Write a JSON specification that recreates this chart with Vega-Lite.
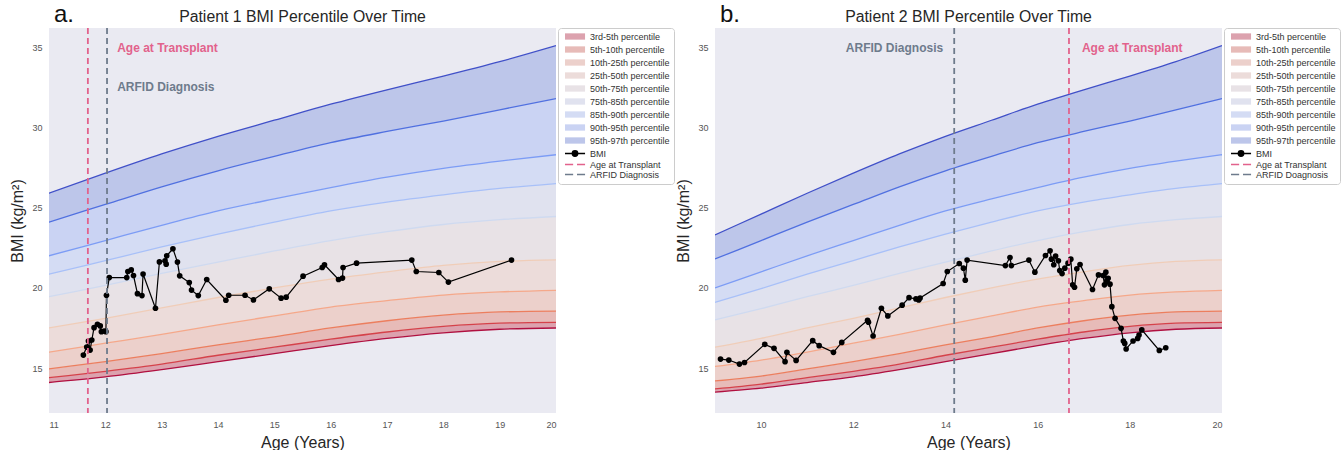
{
"$schema": "https://vega.github.io/schema/vega-lite/v6.json",
"padding": {"left": 9, "top": 3, "right": 0, "bottom": 0},
"spacing": 0,
"resolve": {"scale": {"fill": "independent", "stroke": "independent", "color": "independent"}, "legend": {"fill": "independent"}},
"config": {
  "font": "Liberation Sans",
  "view": {"stroke": null, "fill": "#eaeaf2"},
  "axis": {"grid": false, "domain": false, "ticks": false, "labelFontSize": 9, "labelColor": "#555555", "labelPadding": 7, "titleFontSize": 16, "titleFontWeight": "normal", "titleColor": "#262626"},
  "axisX": {"titlePadding": 5},
  "axisY": {"titlePadding": 6},
  "title": {"fontSize": 15.8, "fontWeight": "normal", "color": "#262626", "offset": 1},
  "legend": {"orient": "right", "offset": 2, "padding": 4, "labelFontSize": 9, "labelColor": "#333333", "strokeColor": "#cccccc", "fillColor": "#ffffff", "cornerRadius": 3, "symbolSize": 49, "symbolStrokeWidth": 1.5, "labelOffset": 19, "rowPadding": 0}
},
"datasets": {
  "bands": [
    {"age":9,"band":"3rd-5th percentile","lo":13.5,"hi":13.7},{"age":10,"band":"3rd-5th percentile","lo":13.75,"hi":14.0},{"age":11,"band":"3rd-5th percentile","lo":14.1,"hi":14.4},{"age":12,"band":"3rd-5th percentile","lo":14.45,"hi":14.8},{"age":13,"band":"3rd-5th percentile","lo":14.9,"hi":15.25},{"age":14,"band":"3rd-5th percentile","lo":15.4,"hi":15.8},{"age":15,"band":"3rd-5th percentile","lo":15.9,"hi":16.3},{"age":16,"band":"3rd-5th percentile","lo":16.4,"hi":16.8},{"age":17,"band":"3rd-5th percentile","lo":16.85,"hi":17.25},{"age":18,"band":"3rd-5th percentile","lo":17.2,"hi":17.6},{"age":19,"band":"3rd-5th percentile","lo":17.42,"hi":17.8},{"age":20,"band":"3rd-5th percentile","lo":17.5,"hi":17.85},
    {"age":9,"band":"5th-10th percentile","lo":13.7,"hi":14.2},{"age":10,"band":"5th-10th percentile","lo":14.0,"hi":14.5},{"age":11,"band":"5th-10th percentile","lo":14.4,"hi":14.95},{"age":12,"band":"5th-10th percentile","lo":14.8,"hi":15.4},{"age":13,"band":"5th-10th percentile","lo":15.25,"hi":15.9},{"age":14,"band":"5th-10th percentile","lo":15.8,"hi":16.45},{"age":15,"band":"5th-10th percentile","lo":16.3,"hi":16.95},{"age":16,"band":"5th-10th percentile","lo":16.8,"hi":17.5},{"age":17,"band":"5th-10th percentile","lo":17.25,"hi":17.95},{"age":18,"band":"5th-10th percentile","lo":17.6,"hi":18.3},{"age":19,"band":"5th-10th percentile","lo":17.8,"hi":18.5},{"age":20,"band":"5th-10th percentile","lo":17.85,"hi":18.55},
    {"age":9,"band":"10th-25th percentile","lo":14.2,"hi":15.1},{"age":10,"band":"10th-25th percentile","lo":14.5,"hi":15.5},{"age":11,"band":"10th-25th percentile","lo":14.95,"hi":16.0},{"age":12,"band":"10th-25th percentile","lo":15.4,"hi":16.55},{"age":13,"band":"10th-25th percentile","lo":15.9,"hi":17.1},{"age":14,"band":"10th-25th percentile","lo":16.45,"hi":17.7},{"age":15,"band":"10th-25th percentile","lo":16.95,"hi":18.25},{"age":16,"band":"10th-25th percentile","lo":17.5,"hi":18.8},{"age":17,"band":"10th-25th percentile","lo":17.95,"hi":19.2},{"age":18,"band":"10th-25th percentile","lo":18.3,"hi":19.55},{"age":19,"band":"10th-25th percentile","lo":18.5,"hi":19.75},{"age":20,"band":"10th-25th percentile","lo":18.55,"hi":19.85},
    {"age":9,"band":"25th-50th percentile","lo":15.1,"hi":16.3},{"age":10,"band":"25th-50th percentile","lo":15.5,"hi":16.85},{"age":11,"band":"25th-50th percentile","lo":16.0,"hi":17.5},{"age":12,"band":"25th-50th percentile","lo":16.55,"hi":18.1},{"age":13,"band":"25th-50th percentile","lo":17.1,"hi":18.75},{"age":14,"band":"25th-50th percentile","lo":17.7,"hi":19.4},{"age":15,"band":"25th-50th percentile","lo":18.25,"hi":20.0},{"age":16,"band":"25th-50th percentile","lo":18.8,"hi":20.55},{"age":17,"band":"25th-50th percentile","lo":19.2,"hi":21.0},{"age":18,"band":"25th-50th percentile","lo":19.55,"hi":21.4},{"age":19,"band":"25th-50th percentile","lo":19.75,"hi":21.65},{"age":20,"band":"25th-50th percentile","lo":19.85,"hi":21.75},
    {"age":9,"band":"50th-75th percentile","lo":16.3,"hi":18.0},{"age":10,"band":"50th-75th percentile","lo":16.85,"hi":18.7},{"age":11,"band":"50th-75th percentile","lo":17.5,"hi":19.45},{"age":12,"band":"50th-75th percentile","lo":18.1,"hi":20.15},{"age":13,"band":"50th-75th percentile","lo":18.75,"hi":20.9},{"age":14,"band":"50th-75th percentile","lo":19.4,"hi":21.6},{"age":15,"band":"50th-75th percentile","lo":20.0,"hi":22.3},{"age":16,"band":"50th-75th percentile","lo":20.55,"hi":22.95},{"age":17,"band":"50th-75th percentile","lo":21.0,"hi":23.5},{"age":18,"band":"50th-75th percentile","lo":21.4,"hi":23.95},{"age":19,"band":"50th-75th percentile","lo":21.65,"hi":24.25},{"age":20,"band":"50th-75th percentile","lo":21.75,"hi":24.45},
    {"age":9,"band":"75th-85th percentile","lo":18.0,"hi":19.1},{"age":10,"band":"75th-85th percentile","lo":18.7,"hi":19.95},{"age":11,"band":"75th-85th percentile","lo":19.45,"hi":20.85},{"age":12,"band":"75th-85th percentile","lo":20.15,"hi":21.7},{"age":13,"band":"75th-85th percentile","lo":20.9,"hi":22.55},{"age":14,"band":"75th-85th percentile","lo":21.6,"hi":23.35},{"age":15,"band":"75th-85th percentile","lo":22.3,"hi":24.1},{"age":16,"band":"75th-85th percentile","lo":22.95,"hi":24.8},{"age":17,"band":"75th-85th percentile","lo":23.5,"hi":25.35},{"age":18,"band":"75th-85th percentile","lo":23.95,"hi":25.8},{"age":19,"band":"75th-85th percentile","lo":24.25,"hi":26.2},{"age":20,"band":"75th-85th percentile","lo":24.45,"hi":26.5},
    {"age":9,"band":"85th-90th percentile","lo":19.1,"hi":20.0},{"age":10,"band":"85th-90th percentile","lo":19.95,"hi":21.0},{"age":11,"band":"85th-90th percentile","lo":20.85,"hi":22.0},{"age":12,"band":"85th-90th percentile","lo":21.7,"hi":22.95},{"age":13,"band":"85th-90th percentile","lo":22.55,"hi":23.9},{"age":14,"band":"85th-90th percentile","lo":23.35,"hi":24.8},{"age":15,"band":"85th-90th percentile","lo":24.1,"hi":25.55},{"age":16,"band":"85th-90th percentile","lo":24.8,"hi":26.25},{"age":17,"band":"85th-90th percentile","lo":25.35,"hi":26.9},{"age":18,"band":"85th-90th percentile","lo":25.8,"hi":27.45},{"age":19,"band":"85th-90th percentile","lo":26.2,"hi":27.9},{"age":20,"band":"85th-90th percentile","lo":26.5,"hi":28.3},
    {"age":9,"band":"90th-95th percentile","lo":20.0,"hi":21.8},{"age":10,"band":"90th-95th percentile","lo":21.0,"hi":22.95},{"age":11,"band":"90th-95th percentile","lo":22.0,"hi":24.1},{"age":12,"band":"90th-95th percentile","lo":22.95,"hi":25.2},{"age":13,"band":"90th-95th percentile","lo":23.9,"hi":26.3},{"age":14,"band":"90th-95th percentile","lo":24.8,"hi":27.3},{"age":15,"band":"90th-95th percentile","lo":25.55,"hi":28.2},{"age":16,"band":"90th-95th percentile","lo":26.25,"hi":29.05},{"age":17,"band":"90th-95th percentile","lo":26.9,"hi":29.75},{"age":18,"band":"90th-95th percentile","lo":27.45,"hi":30.4},{"age":19,"band":"90th-95th percentile","lo":27.9,"hi":31.1},{"age":20,"band":"90th-95th percentile","lo":28.3,"hi":31.8},
    {"age":9,"band":"95th-97th percentile","lo":21.8,"hi":23.3},{"age":10,"band":"95th-97th percentile","lo":22.95,"hi":24.6},{"age":11,"band":"95th-97th percentile","lo":24.1,"hi":25.9},{"age":12,"band":"95th-97th percentile","lo":25.2,"hi":27.15},{"age":13,"band":"95th-97th percentile","lo":26.3,"hi":28.35},{"age":14,"band":"95th-97th percentile","lo":27.3,"hi":29.45},{"age":15,"band":"95th-97th percentile","lo":28.2,"hi":30.45},{"age":16,"band":"95th-97th percentile","lo":29.05,"hi":31.45},{"age":17,"band":"95th-97th percentile","lo":29.75,"hi":32.35},{"age":18,"band":"95th-97th percentile","lo":30.4,"hi":33.2},{"age":19,"band":"95th-97th percentile","lo":31.1,"hi":34.1},{"age":20,"band":"95th-97th percentile","lo":31.8,"hi":35.1}
  ],
  "p1": [
    {"age":11.61,"bmi":15.81},{"age":11.67,"bmi":16.31},{"age":11.70,"bmi":16.69},{"age":11.73,"bmi":16.12},{"age":11.76,"bmi":16.75},{"age":11.80,"bmi":17.52},{"age":11.86,"bmi":17.73},{"age":11.91,"bmi":17.63},{"age":11.93,"bmi":17.27},{"age":11.98,"bmi":17.31},{"age":12.01,"bmi":17.27},{"age":12.02,"bmi":19.54},{"age":12.07,"bmi":20.64},{"age":12.38,"bmi":20.64},{"age":12.40,"bmi":21.02},{"age":12.46,"bmi":21.12},{"age":12.50,"bmi":20.77},{"age":12.57,"bmi":19.64},{"age":12.65,"bmi":19.52},{"age":12.67,"bmi":20.86},{"age":12.89,"bmi":18.73},{"age":12.96,"bmi":21.62},{"age":13.06,"bmi":21.69},{"age":13.08,"bmi":21.48},{"age":13.09,"bmi":22.0},{"age":13.20,"bmi":22.44},{"age":13.28,"bmi":21.61},{"age":13.32,"bmi":20.75},{"age":13.49,"bmi":20.33},{"age":13.53,"bmi":19.86},{"age":13.65,"bmi":19.52},{"age":13.80,"bmi":20.52},{"age":14.14,"bmi":19.23},{"age":14.19,"bmi":19.54},{"age":14.48,"bmi":19.54},{"age":14.63,"bmi":19.25},{"age":14.91,"bmi":19.94},{"age":15.12,"bmi":19.36},{"age":15.21,"bmi":19.42},{"age":15.51,"bmi":20.73},{"age":15.85,"bmi":21.27},{"age":15.89,"bmi":21.44},{"age":16.14,"bmi":20.52},{"age":16.21,"bmi":20.61},{"age":16.22,"bmi":21.27},{"age":16.46,"bmi":21.54},{"age":17.44,"bmi":21.73},{"age":17.52,"bmi":21.02},{"age":17.92,"bmi":20.96},{"age":18.09,"bmi":20.36},{"age":19.21,"bmi":21.73}
  ],
  "p2": [
    {"age":9.12,"bmi":15.56},{"age":9.30,"bmi":15.5},{"age":9.53,"bmi":15.25},{"age":9.64,"bmi":15.35},{"age":10.08,"bmi":16.48},{"age":10.28,"bmi":16.23},{"age":10.52,"bmi":15.4},{"age":10.56,"bmi":15.98},{"age":10.76,"bmi":15.48},{"age":11.12,"bmi":16.71},{"age":11.26,"bmi":16.4},{"age":11.57,"bmi":15.98},{"age":11.75,"bmi":16.6},{"age":12.31,"bmi":17.98},{"age":12.33,"bmi":17.86},{"age":12.43,"bmi":17.0},{"age":12.61,"bmi":18.73},{"age":12.75,"bmi":18.25},{"age":13.06,"bmi":18.92},{"age":13.21,"bmi":19.39},{"age":13.36,"bmi":19.31},{"age":13.42,"bmi":19.25},{"age":13.45,"bmi":19.37},{"age":13.95,"bmi":20.27},{"age":14.04,"bmi":21.02},{"age":14.30,"bmi":21.52},{"age":14.39,"bmi":21.23},{"age":14.43,"bmi":20.48},{"age":14.47,"bmi":21.73},{"age":15.30,"bmi":21.39},{"age":15.40,"bmi":21.89},{"age":15.43,"bmi":21.39},{"age":15.81,"bmi":21.73},{"age":15.94,"bmi":20.98},{"age":16.17,"bmi":22.02},{"age":16.27,"bmi":22.31},{"age":16.30,"bmi":21.79},{"age":16.35,"bmi":21.44},{"age":16.39,"bmi":21.98},{"age":16.45,"bmi":21.69},{"age":16.48,"bmi":21.08},{"age":16.53,"bmi":20.89},{"age":16.59,"bmi":21.23},{"age":16.66,"bmi":21.54},{"age":16.72,"bmi":21.79},{"age":16.76,"bmi":20.19},{"age":16.80,"bmi":20.04},{"age":16.85,"bmi":21.19},{"age":16.92,"bmi":21.46},{"age":17.19,"bmi":19.9},{"age":17.32,"bmi":20.81},{"age":17.42,"bmi":20.77},{"age":17.45,"bmi":20.19},{"age":17.48,"bmi":20.98},{"age":17.50,"bmi":20.4},{"age":17.53,"bmi":20.6},{"age":17.57,"bmi":20.23},{"age":17.61,"bmi":18.83},{"age":17.68,"bmi":18.1},{"age":17.81,"bmi":17.48},{"age":17.86,"bmi":16.69},{"age":17.89,"bmi":16.54},{"age":17.92,"bmi":16.19},{"age":18.07,"bmi":16.69},{"age":18.17,"bmi":16.85},{"age":18.20,"bmi":17.06},{"age":18.26,"bmi":17.38},{"age":18.64,"bmi":16.1},{"age":18.78,"bmi":16.27}
  ]
},
"hconcat": [
  {
    "title": {"text": "a.", "anchor": "start", "fontSize": 24, "color": "#111111", "dx": 44, "dy": 22, "offset": 4},
    "hconcat": [
      {
        "width": 507, "height": 385,
        "title": {"text": "Patient 1 BMI Percentile Over Time"},
        "layer": [
          {"data": {"name": "bands"}, "mark": {"type": "area", "interpolate": "monotone", "clip": true},
           "encoding": {
             "x": {"field": "age", "type": "quantitative", "scale": {"domain": [11, 20], "nice": false, "zero": false}, "axis": {"values": [11,12,13,14,15,16,17,18,19,20], "format": "d", "title": "Age (Years)"}},
             "y": {"field": "hi", "type": "quantitative", "scale": {"domain": [12.2, 36.2], "nice": false, "zero": false}, "axis": {"values": [15,20,25,30,35], "title": "BMI (kg/m²)"}},
             "y2": {"field": "lo"},
             "fill": {"field": "band", "type": "nominal",
               "scale": {"domain": ["3rd-5th percentile","5th-10th percentile","10th-25th percentile","25th-50th percentile","50th-75th percentile","75th-85th percentile","85th-90th percentile","90th-95th percentile","95th-97th percentile","BMI","Age at Transplant","ARFID Diagnosis"],
                         "range": ["#dca2ae","#e7bbb8","#ecd0cb","#ecdcda","#e8e2e6","#e0e2ef","#d4dcf4","#cad3f3","#bdc6ea","#000000","#e2628c","#6e7b8c"]},
               "legend": {"title": null, "encode": {"symbols": {"update": {
                 "shape": {"signal": "indexof(datum.value,'percentile')>=0 ? 'M-0.43,-0.9H5.3V0.9H-0.43Z' : datum.value=='BMI' ? 'M-0.43,0H5.3M1.68,0A0.75,0.75 0 1,0 3.18,0A0.75,0.75 0 1,0 1.68,0' : 'M-0.43,0H1.9M3.0,0H5.3'"},
                 "stroke": {"signal": "datum.value=='BMI' ? '#000000' : datum.value=='Age at Transplant' ? '#e2628c' : indexof(datum.value,'ARFID')>=0 ? '#6e7b8c' : 'transparent'"},
                 "strokeWidth": {"value": 1.6},
                 "opacity": {"value": 1},
                 "fillOpacity": {"value": 1}
               }}}}}
           }},
          {"data": {"name": "bands"}, "mark": {"type": "line", "interpolate": "monotone", "clip": true, "strokeWidth": 1.3},
           "encoding": {
             "x": {"field": "age", "type": "quantitative"},
             "y": {"field": "hi", "type": "quantitative"},
             "stroke": {"field": "band", "type": "nominal", "legend": null,
               "scale": {"domain": ["3rd-5th percentile","5th-10th percentile","10th-25th percentile","25th-50th percentile","50th-75th percentile","75th-85th percentile","85th-90th percentile","90th-95th percentile","95th-97th percentile"],
                         "range": ["#d5424a","#ec7e5e","#f5a88a","#f0cdb8","#cfdaf0","#a8c0f8","#7c9cf5","#5070e0","#4050c8"]}}
           }},
          {"data": {"name": "bands"}, "transform": [{"filter": "datum.band == '3rd-5th percentile'"}],
           "mark": {"type": "line", "interpolate": "monotone", "clip": true, "strokeWidth": 1.3, "color": "#b01040"},
           "encoding": {"x": {"field": "age", "type": "quantitative"}, "y": {"field": "lo", "type": "quantitative"}}},
          {"data": {"name": "p1"}, "mark": {"type": "line", "color": "#000000", "strokeWidth": 1.2, "clip": true, "point": {"filled": true, "size": 32, "color": "#000000"}},
           "encoding": {"x": {"field": "age", "type": "quantitative"}, "y": {"field": "bmi", "type": "quantitative"}}},
          {"data": {"values": [{"event": "Age at Transplant", "age": 11.69}, {"event": "ARFID Diagnosis", "age": 12.03}]},
           "mark": {"type": "rule", "strokeDash": [6, 4], "strokeWidth": 1.8},
           "encoding": {"x": {"field": "age", "type": "quantitative"},
             "color": {"field": "event", "type": "nominal", "legend": null, "scale": {"domain": ["Age at Transplant", "ARFID Diagnosis"], "range": ["#e2628c", "#6e7b8c"]}}}},
          {"data": {"values": [{"event": "Age at Transplant", "age": 12.21, "bmi": 34.93}, {"event": "ARFID Diagnosis", "age": 12.21, "bmi": 32.52}]},
           "mark": {"type": "text", "align": "left", "baseline": "middle", "fontWeight": "bold", "fontSize": 12},
           "encoding": {"x": {"field": "age", "type": "quantitative"}, "y": {"field": "bmi", "type": "quantitative"}, "text": {"field": "event"},
             "color": {"field": "event", "type": "nominal", "legend": null}}}
        ]
      }
    ]
  },
  {
    "title": {"text": "b.", "anchor": "start", "fontSize": 24, "color": "#111111", "dx": 44, "dy": 22, "offset": 4},
    "hconcat": [
      {
        "width": 507, "height": 385,
        "title": {"text": "Patient 2 BMI Percentile Over Time"},
        "layer": [
          {"data": {"name": "bands"}, "mark": {"type": "area", "interpolate": "monotone", "clip": true},
           "encoding": {
             "x": {"field": "age", "type": "quantitative", "scale": {"domain": [9, 20], "nice": false, "zero": false}, "axis": {"values": [10,12,14,16,18,20], "format": "d", "title": "Age (Years)"}},
             "y": {"field": "hi", "type": "quantitative", "scale": {"domain": [12.2, 36.2], "nice": false, "zero": false}, "axis": {"values": [15,20,25,30,35], "title": "BMI (kg/m²)"}},
             "y2": {"field": "lo"},
             "fill": {"field": "band", "type": "nominal",
               "scale": {"domain": ["3rd-5th percentile","5th-10th percentile","10th-25th percentile","25th-50th percentile","50th-75th percentile","75th-85th percentile","85th-90th percentile","90th-95th percentile","95th-97th percentile","BMI","Age at Transplant","ARFID Doagnosis"],
                         "range": ["#dca2ae","#e7bbb8","#ecd0cb","#ecdcda","#e8e2e6","#e0e2ef","#d4dcf4","#cad3f3","#bdc6ea","#000000","#e2628c","#6e7b8c"]},
               "legend": {"title": null, "encode": {"symbols": {"update": {
                 "shape": {"signal": "indexof(datum.value,'percentile')>=0 ? 'M-0.43,-0.9H5.3V0.9H-0.43Z' : datum.value=='BMI' ? 'M-0.43,0H5.3M1.68,0A0.75,0.75 0 1,0 3.18,0A0.75,0.75 0 1,0 1.68,0' : 'M-0.43,0H1.9M3.0,0H5.3'"},
                 "stroke": {"signal": "datum.value=='BMI' ? '#000000' : datum.value=='Age at Transplant' ? '#e2628c' : indexof(datum.value,'ARFID')>=0 ? '#6e7b8c' : 'transparent'"},
                 "strokeWidth": {"value": 1.6},
                 "opacity": {"value": 1},
                 "fillOpacity": {"value": 1}
               }}}}}
           }},
          {"data": {"name": "bands"}, "mark": {"type": "line", "interpolate": "monotone", "clip": true, "strokeWidth": 1.3},
           "encoding": {
             "x": {"field": "age", "type": "quantitative"},
             "y": {"field": "hi", "type": "quantitative"},
             "stroke": {"field": "band", "type": "nominal", "legend": null,
               "scale": {"domain": ["3rd-5th percentile","5th-10th percentile","10th-25th percentile","25th-50th percentile","50th-75th percentile","75th-85th percentile","85th-90th percentile","90th-95th percentile","95th-97th percentile"],
                         "range": ["#d5424a","#ec7e5e","#f5a88a","#f0cdb8","#cfdaf0","#a8c0f8","#7c9cf5","#5070e0","#4050c8"]}}
           }},
          {"data": {"name": "bands"}, "transform": [{"filter": "datum.band == '3rd-5th percentile'"}],
           "mark": {"type": "line", "interpolate": "monotone", "clip": true, "strokeWidth": 1.3, "color": "#b01040"},
           "encoding": {"x": {"field": "age", "type": "quantitative"}, "y": {"field": "lo", "type": "quantitative"}}},
          {"data": {"name": "p2"}, "mark": {"type": "line", "color": "#000000", "strokeWidth": 1.2, "clip": true, "point": {"filled": true, "size": 32, "color": "#000000"}},
           "encoding": {"x": {"field": "age", "type": "quantitative"}, "y": {"field": "bmi", "type": "quantitative"}}},
          {"data": {"values": [{"event": "ARFID Diagnosis", "age": 14.19}, {"event": "Age at Transplant", "age": 16.68}]},
           "mark": {"type": "rule", "strokeDash": [6, 4], "strokeWidth": 1.8},
           "encoding": {"x": {"field": "age", "type": "quantitative"},
             "color": {"field": "event", "type": "nominal", "legend": null, "scale": {"domain": ["Age at Transplant", "ARFID Diagnosis"], "range": ["#e2628c", "#6e7b8c"]}}}},
          {"data": {"values": [{"event": "ARFID Diagnosis", "age": 13.95, "bmi": 34.98}]},
           "mark": {"type": "text", "align": "right", "baseline": "middle", "fontWeight": "bold", "fontSize": 12},
           "encoding": {"x": {"field": "age", "type": "quantitative"}, "y": {"field": "bmi", "type": "quantitative"}, "text": {"field": "event"},
             "color": {"field": "event", "type": "nominal", "legend": null}}},
          {"data": {"values": [{"event": "Age at Transplant", "age": 16.96, "bmi": 34.98}]},
           "mark": {"type": "text", "align": "left", "baseline": "middle", "fontWeight": "bold", "fontSize": 12},
           "encoding": {"x": {"field": "age", "type": "quantitative"}, "y": {"field": "bmi", "type": "quantitative"}, "text": {"field": "event"},
             "color": {"field": "event", "type": "nominal", "legend": null}}}
        ]
      }
    ]
  }
]
}
